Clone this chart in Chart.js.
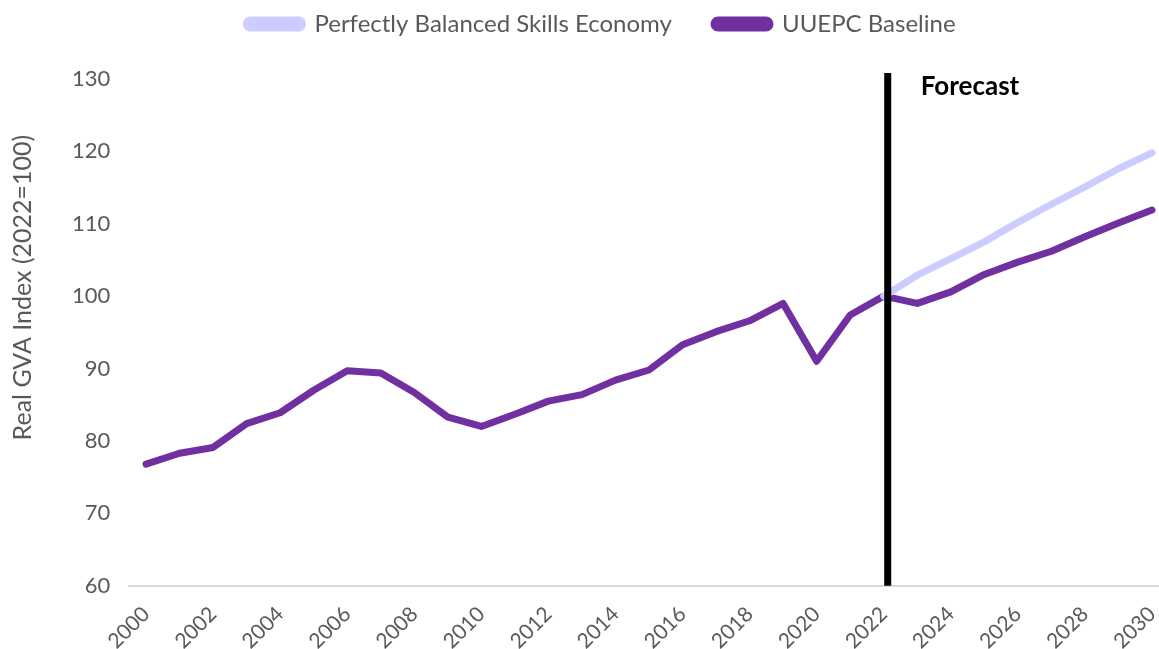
<!DOCTYPE html>
<html lang="en">
<head>
<meta charset="UTF-8">
<title>Real GVA Index</title>
<script src="https://cdn.jsdelivr.net/npm/chart.js"></script>
<style>
  html, body { margin: 0; padding: 0; background: #fff; }
  #wrap { width: 1159px; height: 649px; }
</style>
</head>
<body>
<div id="wrap"><canvas id="chartGVA"></canvas></div>
<script>
const years = [];
for (let y = 2000; y <= 2030; y++) years.push(y);

const baseline = [76.8, 78.3, 79.1, 82.4, 83.9, 87.0, 89.7, 89.4, 86.7, 83.3,
                  82.0, 83.7, 85.5, 86.4, 88.4, 89.8, 93.3, 95.1, 96.6, 99.0,
                  91.0, 97.4, 100.0, 99.0, 100.6, 103.0, 104.7, 106.2, 108.2, 110.1, 111.9];
const balanced = [null, null, null, null, null, null, null, null, null, null,
                  null, null, null, null, null, null, null, null, null, null,
                  null, null, 100.0, 102.9, 105.2, 107.5, 110.2, 112.7, 115.1, 117.6, 119.8];

const forecastYear = 2022;
const textGrey = '#595959';

function toPoints(vals) {
  return years.map((yr, i) => ({ x: yr, y: vals[i] }));
}

// vertical forecast marker + label
const forecastLine = {
  id: 'forecastLine',
  afterDatasetsDraw(chart) {
    const { ctx, chartArea, scales } = chart;
    const x = scales.x.getPixelForValue(forecastYear) + 4;
    ctx.save();
    ctx.strokeStyle = '#000';
    ctx.lineWidth = 7;
    ctx.beginPath();
    ctx.moveTo(x, chartArea.top - 6);
    ctx.lineTo(x, chartArea.bottom);
    ctx.stroke();
    ctx.fillStyle = '#000';
    ctx.font = 'bold 26px Lato';
    ctx.textBaseline = 'middle';
    ctx.fillText('Forecast', x + 33, scales.y.getPixelForValue(128.9));
    ctx.restore();
  }
};

// extra room under the legend, and nudge it a bit right like the original
const legendTweak = {
  id: 'legendTweak',
  beforeInit(chart) {
    const fit = chart.legend.fit;
    chart.legend.fit = function () {
      fit.bind(chart.legend)();
      this.height += 33;
    };
  },
  afterLayout(chart) {
    chart.legend.left += 22;
    chart.legend.right += 22;
  }
};

new Chart(document.getElementById('chartGVA').getContext('2d'), {
  type: 'line',
  data: {
    datasets: [{
      label: 'Perfectly Balanced Skills Economy',
      data: toPoints(balanced),
      borderColor: '#CCCCFF',
      backgroundColor: '#CCCCFF',
      borderWidth: 7,
      borderCapStyle: 'round',
      borderJoinStyle: 'round',
      pointRadius: 0,
      fill: false
    }, {
      label: 'UUEPC Baseline',
      data: toPoints(baseline),
      borderColor: '#7030A0',
      backgroundColor: '#7030A0',
      borderWidth: 7,
      borderCapStyle: 'round',
      borderJoinStyle: 'round',
      pointRadius: 0,
      fill: false
    }]
  },
  options: {
    responsive: true,
    maintainAspectRatio: false,
    animation: false,
    layout: { padding: { top: 0, right: 1, bottom: -13, left: 0 } },
    plugins: {
      tooltip: { enabled: false },
      legend: {
        position: 'top',
        labels: {
          color: textGrey,
          font: { family: 'Lato', size: 24 },
          boxWidth: 56,
          boxHeight: 8,
          useBorderRadius: true,
          borderRadius: 4,
          padding: 12,
          generateLabels(chart) {
            const items = Chart.defaults.plugins.legend.labels.generateLabels(chart);
            // wider gap between the two entries
            items.forEach((it, i) => { if (i < items.length - 1) it.text += '\u00a0\u00a0\u00a0\u00a0\u00a0'; });
            return items;
          }
        }
      }
    },
    scales: {
      x: {
        type: 'linear',
        min: 1999.5,
        max: 2030.18,
        grid: { display: false },
        border: { display: true, color: '#D9D9D9', width: 2 },
        afterFit(scale) { scale.paddingRight = 0; scale.paddingLeft = 0; },
        ticks: {
          stepSize: 2,
          includeBounds: false,
          autoSkip: false,
          maxRotation: 45,
          minRotation: 45,
          color: textGrey,
          font: { family: 'Lato', size: 21 },
          padding: 8,
          callback: v => String(v)
        }
      },
      y: {
        min: 60,
        max: 130,
        grid: { display: false },
        border: { display: false },
        ticks: {
          stepSize: 10,
          color: textGrey,
          font: { family: 'Lato', size: 22 },
          padding: 11
        },
        title: {
          display: true,
          // leading spaces lift the title a little, as in the original
          text: '\u00a0'.repeat(14) + 'Real GVA Index (2022=100)',
          color: textGrey,
          font: { family: 'Lato', size: 25 },
          padding: { top: 8, bottom: 23 }
        }
      }
    }
  },
  plugins: [forecastLine, legendTweak]
});
</script>
</body>
</html>
